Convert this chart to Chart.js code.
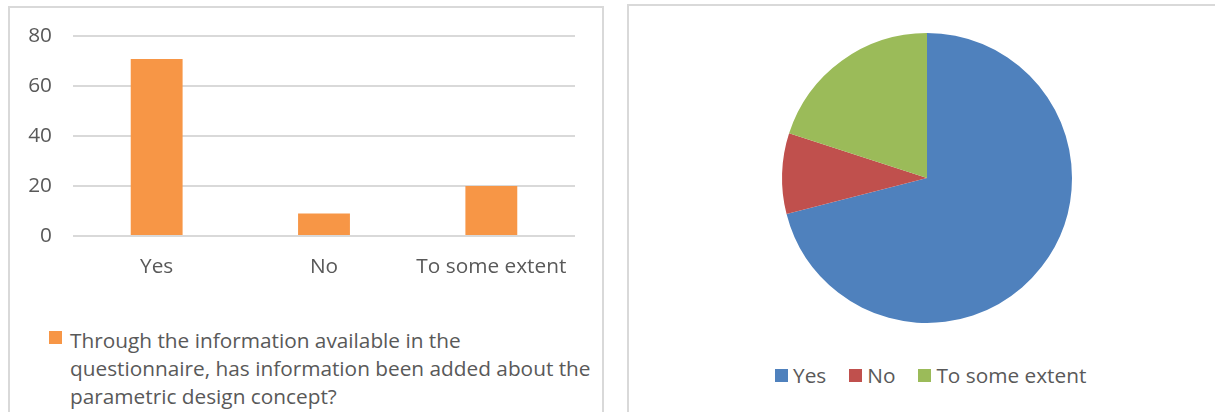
<!DOCTYPE html>
<html>
<head>
<meta charset="utf-8">
<script src="https://cdn.jsdelivr.net/npm/chart.js@4/dist/chart.umd.min.js"></script>
<style>
    body {
        margin: 0;
        width: 1215px;
        height: 412px;
        background: #ffffff;
        position: relative;
        overflow: hidden;
        font-family: "Open Sans", Lato, sans-serif;
        color: #595959;
    }
    .panel {
        position: absolute;
        border: 2px solid #d9d9d9;
        border-bottom: none;
        box-sizing: border-box;
    }
    #barCanvas, #pieCanvas {
        position: absolute;
    }
    .legend-box {
        position: absolute;
        width: 13px;
        height: 13px;
    }
    #barLegendText {
        position: absolute;
        left: 70px;
        top: 326px;
        width: 540px;
        font-size: 20.8px;
        line-height: 28px;
        white-space: nowrap;
    }
    #pieLegend {
        position: absolute;
        left: 775px;
        top: 364px;
        display: flex;
        align-items: center;
        font-size: 20.8px;
        line-height: 22px;
        white-space: nowrap;
    }
    #pieLegend .item {
        display: flex;
        align-items: center;
        margin-right: 23px;
    }
    #pieLegend .swatch {
        width: 13px;
        height: 13px;
        margin-right: 5px;
    }
</style>
</head>
<body>
<div class="panel" style="left: 8px; top: 6px; width: 596px; height: 420px;"></div>
<div class="panel" style="left: 627px; top: 4px; width: 600px; height: 420px;"></div>

<canvas id="barCanvas" width="590" height="273" style="left: 10px; top: 3px;"></canvas>
<div class="legend-box" id="barLegendBox" style="left: 49px; top: 331px;"></div>
<div id="barLegendText"></div>

<canvas id="pieCanvas" width="300" height="300" style="left: 777px; top: 28px;"></canvas>
<div id="pieLegend"></div>

<script>
const categories = ["Yes", "No", "To some extent"];
const responses = [71, 9, 20];
const yTicks = [0, 20, 40, 60, 80];
const questionLines = [
    "Through the information available in the",
    "questionnaire, has information been added about the",
    "parametric design concept?",
];

const barColor = "#F79646";
const pieColors = ["#4F81BD", "#C0504D", "#9BBB59"];
const textColor = "#595959";
const tickFont = { family: "'Open Sans', Lato, sans-serif", size: 20.8 };

// bar chart
new Chart(document.getElementById("barCanvas"), {
    type: "bar",
    data: {
        labels: categories,
        datasets: [
            {
                label: questionLines.join(" "),
                data: responses,
                backgroundColor: barColor,
                barPercentage: 0.31,
                categoryPercentage: 1,
            },
        ],
    },
    options: {
        responsive: false,
        animation: false,
        layout: { padding: { top: 22, right: 25, left: 0, bottom: 0 } },
        plugins: {
            legend: { display: false },
            tooltip: { enabled: false },
        },
        scales: {
            x: {
                grid: { display: false, drawTicks: false },
                border: { display: false },
                ticks: { color: textColor, font: tickFont, padding: 19 },
                afterFit(scale) {
                    scale.height = 40;
                },
            },
            y: {
                min: yTicks[0],
                max: yTicks[yTicks.length - 1],
                afterBuildTicks(scale) {
                    scale.ticks = yTicks.map((v) => ({ value: v }));
                },
                grid: { color: "#d9d9d9", lineWidth: 2, drawTicks: false },
                border: { display: false },
                ticks: { color: textColor, font: tickFont, padding: 21 },
                afterFit(scale) {
                    scale.width = 63;
                },
            },
        },
    },
});

document.getElementById("barLegendBox").style.background = barColor;
document.getElementById("barLegendText").innerHTML = questionLines.join("<br>");

// pie chart
new Chart(document.getElementById("pieCanvas"), {
    type: "pie",
    data: {
        labels: categories,
        datasets: [
            {
                data: responses,
                backgroundColor: pieColors,
                borderWidth: 0,
            },
        ],
    },
    options: {
        responsive: false,
        animation: false,
        layout: { padding: 5 },
        plugins: {
            legend: { display: false },
            tooltip: { enabled: false },
        },
    },
});

const pieLegend = document.getElementById("pieLegend");
categories.forEach((name, i) => {
    const item = document.createElement("div");
    item.className = "item";
    const swatch = document.createElement("div");
    swatch.className = "swatch";
    swatch.style.background = pieColors[i];
    const label = document.createElement("span");
    label.textContent = name;
    item.appendChild(swatch);
    item.appendChild(label);
    pieLegend.appendChild(item);
});
</script>
</body>
</html>
